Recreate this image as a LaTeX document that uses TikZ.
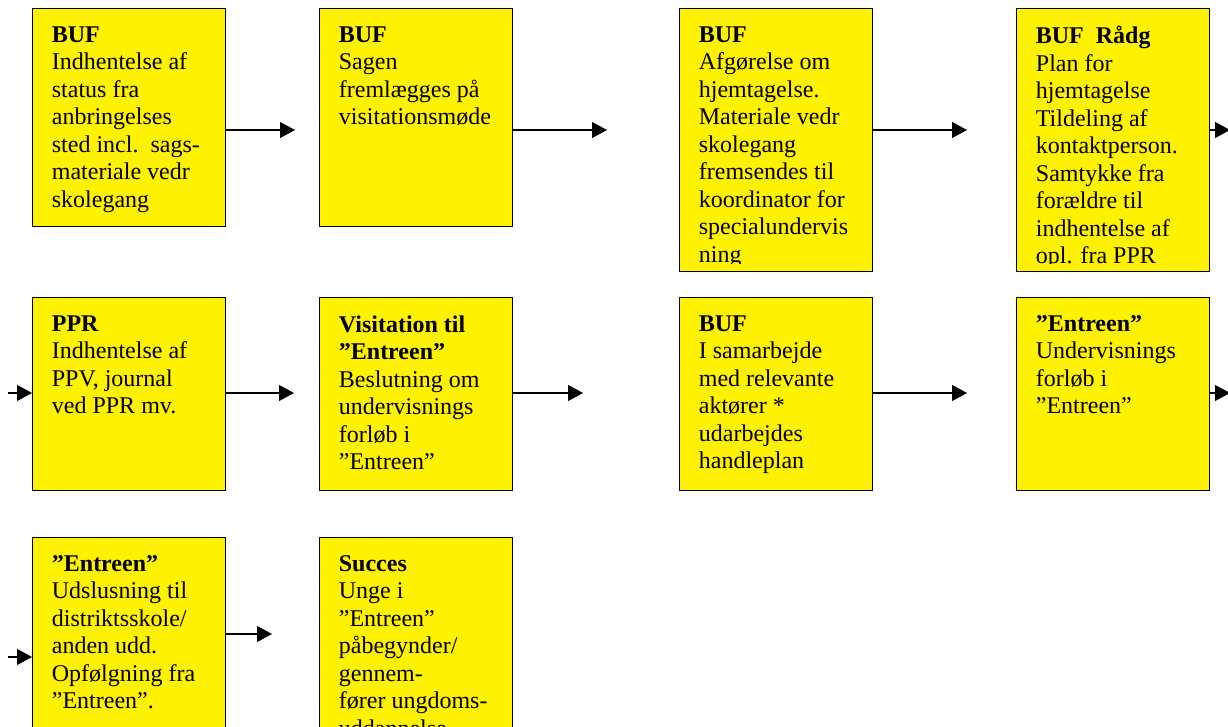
\documentclass[tikz,border=0pt]{standalone}
\usepackage{fontspec}
\setmainfont{Liberation Serif}
\usetikzlibrary{arrows.meta}

\tikzset{
  boks/.style={draw=black, fill=yellow, line width=0.7pt, anchor=north west,
    inner sep=0pt, minimum width=96.5pt, minimum height=#1},
  tekst/.style={anchor=north west, align=left, inner sep=0pt,
    font=\fontsize{12}{13.75}\selectfont},
  pil/.style={line width=0.6pt, -{Triangle[length=7.5pt,width=8pt]}},
}

\begin{document}
\begin{tikzpicture}[x=0.5pt,y=-0.5pt]
\useasboundingbox (0,0) rectangle (1228,727);
% Drawing boxes
% Row 1
\node[boks=109pt] (b1) at (32,8) {};
\node[boks=109pt] (b2) at (319,8) {};
\node[boks=131.5pt] (b3) at (679,8) {};
\node[boks=131.5pt] (b4) at (1016,8) {};
% Row 2
\node[boks=96.5pt] (b5) at (32,297) {};
\node[boks=96.5pt] (b6) at (319,297) {};
\node[boks=96.5pt] (b7) at (679,297) {};
\node[boks=96.5pt] (b8) at (1016,297) {};
% Row 3 (runs past the page)
\node[boks=110pt] (b9) at (32,537) {};
\node[boks=110pt] (b10) at (319,537) {};
% Done with boxes; drawing texts
\node[tekst] (t1) at ([xshift=9.75pt,yshift=-9pt]b1.north west)
  {\textbf{BUF}\\Indhentelse af\\status fra\\anbringelses\\sted incl.\ \ sags-\\materiale vedr\\skolegang};
\node[tekst] (t2) at ([xshift=9.75pt,yshift=-9pt]b2.north west)
  {\textbf{BUF}\\Sagen\\fremlægges på\\visitationsmøde};
\begin{scope}
\clip (b3.north west) rectangle ([yshift=4.5pt]b3.south east);
\node[tekst] (t3) at ([xshift=9.75pt,yshift=-9pt]b3.north west)
  {\textbf{BUF}\\Afgørelse om\\hjemtagelse.\\Materiale vedr\\skolegang\\fremsendes til\\koordinator for\\specialundervis\\ning};
\end{scope}
\begin{scope}
\clip (b4.north west) rectangle ([yshift=4.5pt]b4.south east);
\node[tekst] (t4) at ([xshift=9.75pt,yshift=-9pt]b4.north west)
  {\textbf{BUF\ \ Rådg}\\Plan for\\hjemtagelse\\Tildeling af\\kontaktperson.\\Samtykke fra\\forældre til\\indhentelse af\\opl. fra PPR};
\end{scope}
\node[tekst] (t5) at ([xshift=9.75pt,yshift=-9pt]b5.north west)
  {\textbf{PPR}\\Indhentelse af\\PPV, journal\\ved PPR mv.};
\node[tekst] (t6) at ([xshift=9.75pt,yshift=-9pt]b6.north west)
  {\textbf{Visitation til}\\\textbf{”Entreen”}\\Beslutning om\\undervisnings\\forløb i\\”Entreen”};
\node[tekst] (t7) at ([xshift=9.75pt,yshift=-9pt]b7.north west)
  {\textbf{BUF}\\I samarbejde\\med relevante\\aktører *\\udarbejdes\\handleplan};
\node[tekst] (t8) at ([xshift=9.75pt,yshift=-9pt]b8.north west)
  {\textbf{”Entreen”}\\Undervisnings\\forløb i\\”Entreen”};
\node[tekst] (t9) at ([xshift=9.75pt,yshift=-9pt]b9.north west)
  {\textbf{”Entreen”}\\Udslusning til\\distriktsskole/\\anden udd.\\Opfølgning fra\\”Entreen”.};
\node[tekst] (t10) at ([xshift=9.75pt,yshift=-9pt]b10.north west)
  {\textbf{Succes}\\Unge i\\”Entreen”\\påbegynder/\\gennem-\\fører ungdoms-\\uddannelse};
% Done with texts; drawing arrows
% Row 1
\coordinate (p1) at (295,130);
\coordinate (p2) at (607,130);
\coordinate (p3) at (967,130);
\coordinate (p4) at (1230,130);
\draw[pil] (b1.east |- p1) -- (p1);
\draw[pil] (b2.east |- p2) -- (p2);
\draw[pil] (b3.east |- p3) -- (p3);
\draw[pil] (b4.east |- p4) -- (p4);
% Row 2
\coordinate (q5) at (8,393);
\coordinate (p5) at (294,393);
\coordinate (p6) at (583,393);
\coordinate (p7) at (967,393);
\coordinate (p8) at (1230,393);
\draw[pil] (q5) -- (q5 -| b5.west);
\draw[pil] (b5.east |- p5) -- (p5);
\draw[pil] (b6.east |- p6) -- (p6);
\draw[pil] (b7.east |- p7) -- (p7);
\draw[pil] (b8.east |- p8) -- (p8);
% Row 3
\coordinate (q9) at (8,657);
\coordinate (p9) at (272,634);
\draw[pil] (q9) -- (q9 -| b9.west);
\draw[pil] (b9.east |- p9) -- (p9);
% Done with arrows
\end{tikzpicture}
\end{document}
